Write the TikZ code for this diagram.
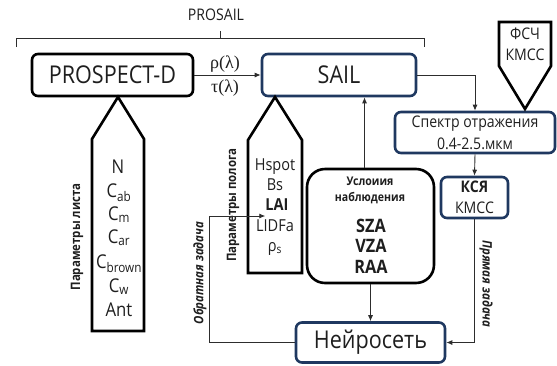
\documentclass[tikz,border=0pt]{standalone}
\usepackage{fontspec}
\setmainfont[FakeStretch=0.88]{Open Sans}
\newfontfamily\grk{Liberation Serif}
\usetikzlibrary{arrows.meta}
\definecolor{navy}{RGB}{31,56,96}
\definecolor{lgray}{RGB}{45,45,45}
\definecolor{txt}{RGB}{30,30,30}
\begin{document}
\begin{tikzpicture}[x=1pt,y=-1pt, text=txt,
  blackbox/.style={draw=black, line width=2.6pt, rounded corners=6pt, inner sep=0pt, font=\fontsize{24.5}{26}\selectfont},
  navybox/.style={draw=navy, line width=2.6pt, rounded corners=6pt, inner sep=0pt},
  shapeline/.style={draw=black, line width=2.6pt, line join=miter},
  arr/.style={draw=lgray, line width=0.9pt, -{Latex[length=6pt,width=5pt]}},
  plain/.style={inner sep=0pt},
  leaftxt/.style={inner sep=0pt, anchor=base, font=\fontsize{19}{21}\selectfont},
  cantxt/.style={inner sep=0pt, anchor=base, font=\fontsize{16.5}{18}\selectfont},
  usltxt/.style={inner sep=0pt, anchor=base, font=\bfseries\fontsize{18.5}{20}\selectfont},
  sidelbl/.style={inner sep=0pt, font=\bfseries\fontsize{13}{15}\selectfont},
  sidelbli/.style={inner sep=0pt, font=\bfseries\itshape\fontsize{13}{15}\selectfont},
]
\useasboundingbox (0,0) rectangle (557,365);

% PROSAIL brace
\node[plain, font=\fontsize{16}{18}\selectfont] (prosail) at (216,15) {PROSAIL};
\draw[lgray, line width=0.9pt] (16,47) -- (16,38) -- (220,38) -- (220,31);
\draw[lgray, line width=0.9pt] (220,38) -- (424,38) -- (424,47);

% main boxes
\node[blackbox, minimum width=161pt, minimum height=42pt] (prospect) at (112.5,75) {PROSPECT-D};
\node[navybox, minimum width=154pt, minimum height=42pt, font=\fontsize{24.5}{26}\selectfont] (sail) at (339,75) {SAIL};
\node[navybox, minimum width=160pt, minimum height=41pt, align=center, font=\fontsize{16}{22}\selectfont] (spec) at (475,132.5) {Спектр отражения\\0.4-2.5.мкм};
\node[navybox, minimum width=67pt, minimum height=41pt, align=center, font=\fontsize{16}{21}\selectfont] (ksy) at (474.5,197.5) {\textbf{КСЯ}\\КМСС};
\node[navybox, minimum width=149pt, minimum height=40pt, font=\fontsize{24.5}{26}\selectfont] (neuro) at (370.5,342.5) {Нейросеть};
\node[draw=black, line width=2.6pt, rounded corners=18pt, minimum width=127pt, minimum height=114pt, inner sep=0pt] (usl) at (370.5,226) {};
\node[plain, anchor=base, font=\bfseries\fontsize{12}{14}\selectfont] (usl1) at (370,185) {Услоиия};
\node[plain, anchor=base, font=\bfseries\fontsize{12}{14}\selectfont] (usl2) at (370,201) {наблюдения};
\node[usltxt] (sza) at (371,232.5) {SZA};
\node[usltxt] (vza) at (371,252.5) {VZA};
\node[usltxt] (raa) at (371,273) {RAA};

% arrow PROSPECT -> SAIL
\draw[arr] (prospect.east) -- (sail.west);
\node[plain, font=\grk\fontsize{18}{20}\selectfont] (rho) at (225,64) {ρ(λ)};
\node[plain, font=\grk\fontsize{18}{20}\selectfont] (tau) at (225,88) {τ(λ)};

% FSCh pentagon
\draw[shapeline] (525,109) -- (551,66) -- (551,22) -- (499,22) -- (499,66) -- cycle;
\node[plain, align=center, font=\fontsize{16}{21}\selectfont] (fsch) at (525,44) {ФСЧ\\КМСС};

% leaf pentagon
\draw[shapeline] (118,97) -- (144,139) -- (144,331) -- (92,331) -- (92,139) -- cycle;
\node[leaftxt] (n) at (118,173) {N};
\node[leaftxt] (cab) at (119,197) {C\textsubscript{ab}};
\node[leaftxt] (cm) at (119,220) {C\textsubscript{m}};
\node[leaftxt] (car) at (119,243) {C\textsubscript{ar}};
\node[leaftxt] (cbrown) at (119,268) {C\textsubscript{brown}};
\node[leaftxt] (cw) at (119,292) {C\textsubscript{w}};
\node[leaftxt] (ant) at (119,316) {Ant};
\node[sidelbl, rotate=90] (leafl) at (77,237) {Параметры листа};

% canopy pentagon
\draw[shapeline] (275,97) -- (302,140) -- (302,273) -- (248,273) -- (248,140) -- cycle;
\node[cantxt] (hspot) at (275,170) {Hspot};
\node[cantxt] (bs) at (275,190) {Bs};
\node[cantxt, font=\bfseries\fontsize{16.5}{18}\selectfont] (lai) at (277,210) {LAI};
\node[cantxt] (lidfa) at (275,231) {LIDFa};
\node[cantxt] (rhos) at (275,251) {ρ\textsubscript{s}};
\node[sidelbl, rotate=90] (canl) at (233,205) {Параметры полога};

% connectors
\draw[arr] (sail.east) -| (spec.north);
\draw[arr] (spec.south) -- (ksy.north);
\draw[arr] (ksy.south) |- (neuro.east);
\draw[arr] (usl.south) -- (neuro.north);
\draw[arr] ([xshift=-6pt]usl.north) -- ([xshift=-6pt]usl.north |- sail.south);
\coordinate (fb) at (209,342.5);
\coordinate (laiin) at ([yshift=-6pt]lai.base west);
\draw[arr] (neuro.west) -- (fb) |- (laiin);

\node[sidelbli, rotate=90] (inv) at (200,273) {Обратная задача};
\node[sidelbli, rotate=-90] (dir) at (486,284) {Прямая задача};
\end{tikzpicture}
\end{document}
